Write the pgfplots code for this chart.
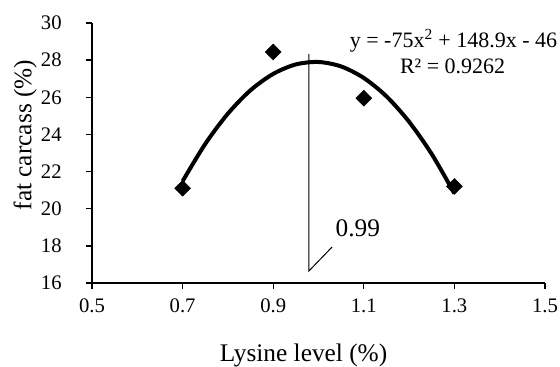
\documentclass[border=0pt]{standalone}
\usepackage{fontspec}
\setmainfont{Liberation Serif}
\usepackage{pgfplots}
\pgfplotsset{compat=1.18}
\newcommand{\tf}{\fontsize{15.5}{17}\selectfont}
\begin{document}
\begin{tikzpicture}
\useasboundingbox (-69pt,-63pt) rectangle (351pt,212.25pt);
\begin{axis}[
  scale only axis,
  at={(0,0)}, anchor=south west,
  width=339.75pt, height=195pt,
  xmin=0.5, xmax=1.5, ymin=16, ymax=30,
  axis x line=bottom, axis y line=left,
  axis line style={-, line width=1pt},
  xtick={0.5,0.7,0.9,1.1,1.3,1.5},
  xticklabels={0.5,0.7,0.9,1.1,1.3,1.5},
  ytick={16,18,20,22,24,26,28,30},
  yticklabels={16,18,20,22,24,26,28,30},
  tick align=outside,
  major tick length=4.5pt,
  tick style={black, line width=1pt},
  /pgf/number format/assume math mode=true,
  tick label style={font=\tf},
  xticklabel style={yshift=-4pt},
  yticklabel style={xshift=-14.75pt},
  xlabel={Lysine level (\%)},
  ylabel={fat carcass (\%)},
  label style={font=\fontsize{19}{22}\selectfont},
  xlabel style={at={(axis description cs:0.467,-0.3)}, anchor=base},
  ylabel style={at={(axis description cs:-0.1478,0.569)}, anchor=center},
  clip=false,
]
% data points
\addplot[only marks, mark=square*, mark size=4.2pt, mark options={rotate=45}, black] coordinates {
  (0.7,21.1) (0.9,28.44) (1.1,25.95) (1.3,21.2)
};
% polynomial trend line
\addplot[black, line width=3pt, smooth] coordinates {
  (0.70,21.48) (0.75,23.49) (0.80,25.12) (0.85,26.38) (0.90,27.26)
  (0.95,27.77) (1.00,27.90) (1.05,27.66) (1.10,27.04) (1.15,26.05)
  (1.20,24.68) (1.25,22.94) (1.30,20.82)
};
% annotation lines
\addplot[black, line width=0.75pt] coordinates {(0.979,28.33) (0.979,16.65) (1.030,17.94)};
\node[font=\fontsize{19}{22}\selectfont] at (axis cs:1.087,18.96) {0.99};
\node[anchor=base, font=\fontsize{16.5}{19}\selectfont, inner sep=0pt] at (axis cs:1.298,28.655)
  {y = -75x\textsuperscript{2} + 148.9x - 46};
\node[anchor=base, font=\fontsize{16.5}{19}\selectfont, inner sep=0pt] at (axis cs:1.296,27.255)
  {R² = 0.9262};
\end{axis}
\end{tikzpicture}
\end{document}
